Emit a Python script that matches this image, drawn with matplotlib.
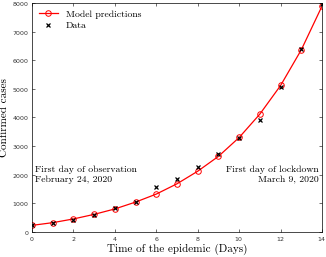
import numpy as np
import matplotlib
matplotlib.use("Agg")
import matplotlib.pyplot as plt

# Days since first observation (Feb 24, 2020)
days = np.arange(0, 15)
model = [225, 320, 450, 610, 800, 1040, 1320, 1680, 2120, 2640, 3300, 4120, 5120, 6370, 7900]
data = [221, 311, 430, 588, 821, 1049, 1577, 1835, 2263, 2706, 3296, 3916, 5061, 6387, 7985]

serif = {"family": "cmr10"}
plt.rcParams["axes.formatter.use_mathtext"] = True

fig = plt.figure(figsize=(3.26, 2.57), dpi=100)
ax = fig.add_axes([0.098, 0.098, 0.89, 0.89])

ax.plot(days, model, "-o", color="red", lw=0.9, ms=4, mfc="none", mew=0.7,
        label="Model predictions")
ax.plot(days, data, "x", color="black", ms=3, mew=0.9, label="Data")

ax.set_xlim(0, 14)
ax.set_ylim(0, 8000)
ax.set_xticks(range(0, 15, 2))
ax.set_yticks(range(0, 8001, 1000))
ax.tick_params(direction="in", top=True, right=True, labelsize=4.5, length=2.5,
               width=0.5, pad=2, colors="#333333")
for s in ax.spines.values():
    s.set_linewidth(0.5)

ax.set_xlabel("Time of the epidemic (Days)", fontdict=serif, fontsize=8, labelpad=1)
ax.set_ylabel("Confirmed cases", fontdict=serif, fontsize=8, labelpad=2)

ax.text(0.15, 2000, "First day of observation\nFebruary 24, 2020", fontdict=serif,
        fontsize=7, va="center", ha="left", linespacing=1.3)
ax.text(13.85, 2000, "First day of lockdown\nMarch 9, 2020", fontdict=serif,
        fontsize=7, va="center", ha="right", linespacing=1.3, multialignment="right")

leg = ax.legend(loc="upper left", frameon=False, prop={"family": "cmr10", "size": 7},
                handlelength=2.0, borderaxespad=0.3, labelspacing=0.3)

fig.savefig("out.png", dpi=100)
